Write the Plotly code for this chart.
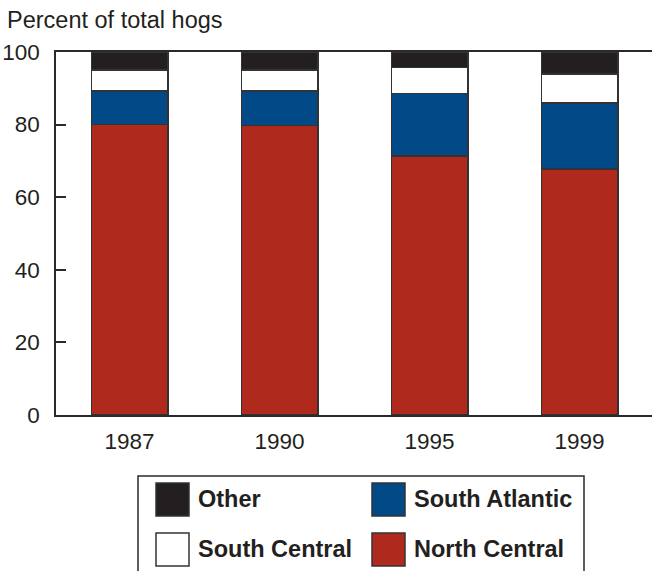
import plotly.graph_objects as go

years = ["1987", "1990", "1995", "1999"]
north_central = [80.0, 79.8, 71.4, 67.8]
south_atlantic = [9.2, 9.4, 17.2, 18.2]
south_central = [5.8, 5.8, 7.2, 8.0]
other = [5.0, 5.0, 4.2, 6.0]
y_ticks = [0, 20, 40, 60, 80, 100]
y_title = "Percent of total hogs"

series = [
    ("North Central", north_central, "#B0291D"),
    ("South Atlantic", south_atlantic, "#024A87"),
    ("South Central", south_central, "#FFFFFF"),
    ("Other", other, "#231F20"),
]

W, H = 652, 571
L, R, T, B = 56, 0, 52, 156
PW, PH = W - L - R, H - T - B

def px(x):
    return (x - L) / PW

def py(y):
    return (H - B - y) / PH

FONT = "Liberation Sans, Arial, sans-serif"
LINE = "#2a2a2a"

fig = go.Figure()
for name, vals, col in series:
    fig.add_trace(go.Bar(
        x=years, y=vals, name=name, width=0.51,
        marker=dict(color=col, line=dict(color="#333333", width=1.5)),
        showlegend=False,
    ))

shapes = []
annotations = []
# legend box
shapes.append(dict(type="rect", xref="paper", yref="paper",
                   x0=px(138), x1=px(584), y0=py(590), y1=py(476),
                   line=dict(color=LINE, width=1.5), fillcolor="rgba(0,0,0,0)"))
legend_pos = {
    "Other": (156, 483),
    "South Central": (156, 533),
    "South Atlantic": (372, 483),
    "North Central": (372, 533),
}
for name, vals, col in series:
    x0, y0 = legend_pos[name]
    shapes.append(dict(type="rect", xref="paper", yref="paper",
                       x0=px(x0), x1=px(x0 + 33), y0=py(y0 + 33), y1=py(y0),
                       fillcolor=col, line=dict(color="#333333", width=1.5)))
    annotations.append(dict(xref="paper", yref="paper", x=px(x0 + 40), y=py(y0 + 16),
                            text="<b>%s</b>" % name, showarrow=False,
                            xanchor="left", yanchor="middle",
                            font=dict(family=FONT, size=23.5, color="#231F20")))
annotations.append(dict(xref="paper", yref="paper", x=px(5), y=py(20),
                        text=y_title, showarrow=False, xanchor="left", yanchor="middle",
                        font=dict(family=FONT, size=23.5, color="#231F20")))

fig.update_layout(
    barmode="stack",
    width=W, height=H,
    margin=dict(l=L, r=R, t=T, b=B, pad=0),
    paper_bgcolor="white", plot_bgcolor="white",
    font=dict(family=FONT, size=22.5, color="#231F20"),
    shapes=shapes, annotations=annotations,
    bargap=0.49,
)
fig.update_xaxes(range=[-0.49, 3.483], showline=True, mirror=True,
                 linecolor=LINE, linewidth=1.5, ticks="", showgrid=False,
                 ticklabelstandoff=5, tickfont=dict(size=22.5))
fig.update_yaxes(range=[0, 100], tickvals=y_ticks, showline=True, linecolor=LINE,
                 linewidth=1.5, ticks="inside", ticklen=10, tickwidth=1.5,
                 tickcolor=LINE, showgrid=False, zeroline=False,
                 ticklabelstandoff=10, tickfont=dict(size=22.5))

fig.write_html("out.html", config={"displayModeBar": False},
               post_script="document.body.style.margin='0';document.body.style.overflow='hidden';")
